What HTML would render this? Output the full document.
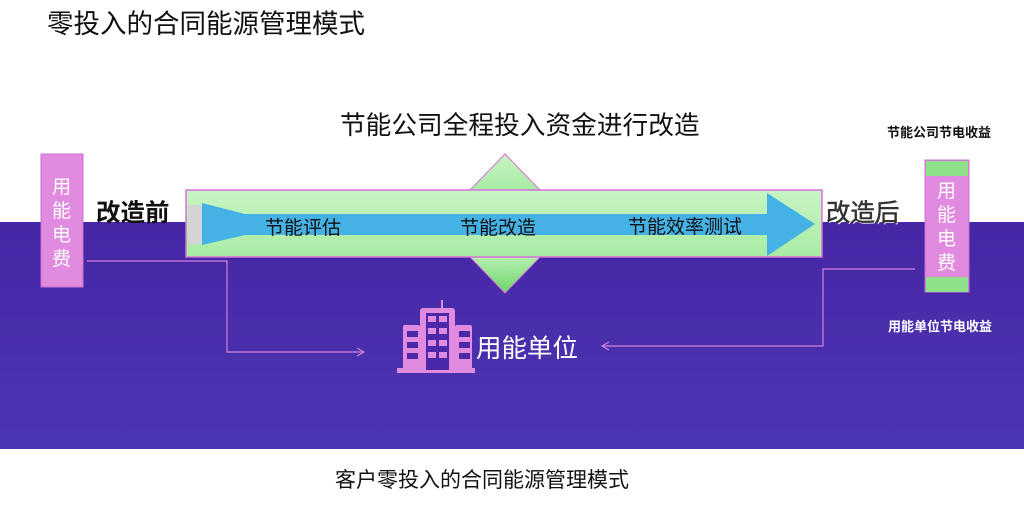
<!DOCTYPE html>
<html><head><meta charset="utf-8"><style>
body{margin:0;width:1024px;height:514px;overflow:hidden;background:#fff;font-family:"Liberation Sans","Noto Sans CJK SC",sans-serif;position:relative}
.a{position:absolute;white-space:nowrap}
</style></head><body>
<div class="a" style="left:0;top:222px;width:1024px;height:227px;background:linear-gradient(#4626a4,#4d36b2)"></div>
<div class="a" style="left:0;top:449px;width:1024px;height:65px;background:#fff"></div>
<svg class="a" style="left:0;top:0" width="1024" height="514">
<defs>
<linearGradient id="g" x1="0" y1="0" x2="0" y2="1"><stop offset="0" stop-color="#c8f5c4"/><stop offset="1" stop-color="#a8eba4"/></linearGradient>
<linearGradient id="gd" x1="0" y1="0" x2="0" y2="1"><stop offset="0" stop-color="#b4efb0"/><stop offset="1" stop-color="#6dd56a"/></linearGradient>
</defs>
<polygon points="505,154 540,190 470,190" fill="url(#g)" stroke="#d870d8" stroke-width="1"/>
<polygon points="470,257 540,257 505,293" fill="url(#gd)" stroke="#d870d8" stroke-width="1"/>
<rect x="186" y="190" width="636" height="67" fill="url(#g)" stroke="#d870d8" stroke-width="1.5"/>
<polygon points="188,205 202,205 202,244 188,244" fill="#d4d4d4"/>
<polygon points="202,203 245,214 767,214 767,193 815,224 767,256 767,235 245,235 202,245" fill="#45b2e6"/>
<rect x="41" y="154" width="42" height="133" fill="#e08ae0" stroke="#c870d0"/>
<rect x="925" y="160" width="44" height="132" fill="#e08ae0" stroke="#c870d0"/>
<rect x="926" y="161" width="42" height="15" fill="#8ee08a"/>
<rect x="926" y="277" width="42" height="15" fill="#8ee08a"/>
<polyline points="87,261 227,261 227,352 363,352" fill="none" stroke="#d080e0" stroke-width="1.2"/>
<polyline points="357,348 364,352 357,356" fill="none" stroke="#d080e0" stroke-width="1.2"/>
<polyline points="915,269 823,269 823,346 602,346" fill="none" stroke="#d080e0" stroke-width="1.2"/>
<polyline points="609,342 602,346 609,350" fill="none" stroke="#d080e0" stroke-width="1.2"/>
<g fill="#e08ae0">
<rect x="441" y="300" width="2" height="10"/>
<rect x="420" y="308" width="35" height="62" rx="3"/>
<rect x="403" y="325" width="17" height="45" rx="2"/>
<rect x="455" y="325" width="17" height="45" rx="2"/>
<rect x="397" y="368" width="78" height="5"/>
</g>
<g fill="#4a28a8">
<rect x="426" y="313" width="23" height="57"/>
<rect x="407" y="331" width="11" height="6"/><rect x="407" y="342" width="11" height="6"/><rect x="407" y="353" width="11" height="6"/>
<rect x="459" y="331" width="11" height="6"/><rect x="459" y="342" width="11" height="6"/><rect x="459" y="353" width="11" height="6"/>
</g>
<g fill="#e08ae0">
<rect x="428" y="316" width="8" height="6"/><rect x="439" y="316" width="8" height="6"/>
<rect x="428" y="328" width="8" height="6"/><rect x="439" y="328" width="8" height="6"/>
<rect x="428" y="340" width="8" height="6"/><rect x="439" y="340" width="8" height="6"/>
<rect x="428" y="352" width="8" height="6"/><rect x="439" y="352" width="8" height="6"/>
</g>
</svg>
<div class="a" style="left:47px;top:2px;font-size:26.5px;color:#111">零投入的合同能源管理模式</div>
<div class="a" style="left:340px;top:105px;font-size:25.7px;color:#111">节能公司全程投入资金进行改造</div>
<div class="a" style="left:52px;top:176px;width:20px;font-size:19px;line-height:24px;color:#fff;white-space:normal">用能电费</div>
<div class="a" style="left:937px;top:180px;width:20px;font-size:19px;line-height:24px;color:#fff;white-space:normal">用能电费</div>
<div class="a" style="left:96px;top:194px;font-size:24.5px;font-weight:bold;color:#111">改造前</div>
<div class="a" style="left:826px;top:194px;font-size:24.5px;color:#333;-webkit-text-stroke:0.5px #333;text-shadow:1px 1px 0 #fff">改造后</div>
<div class="a" style="left:265px;top:213px;font-size:19px;color:#111">节能评估</div>
<div class="a" style="left:460px;top:213px;font-size:19px;color:#111">节能改造</div>
<div class="a" style="left:628px;top:212px;font-size:19px;color:#111">节能效率测试</div>
<div class="a" style="left:887px;top:122px;font-size:13px;font-weight:bold;color:#111">节能公司节电收益</div>
<div class="a" style="left:888px;top:316px;font-size:13px;font-weight:bold;color:#fff">用能单位节电收益</div>
<div class="a" style="left:476px;top:328px;font-size:25.5px;color:#fff">用能单位</div>
<div class="a" style="left:335px;top:464px;font-size:21px;color:#111">客户零投入的合同能源管理模式</div>
</body></html>
